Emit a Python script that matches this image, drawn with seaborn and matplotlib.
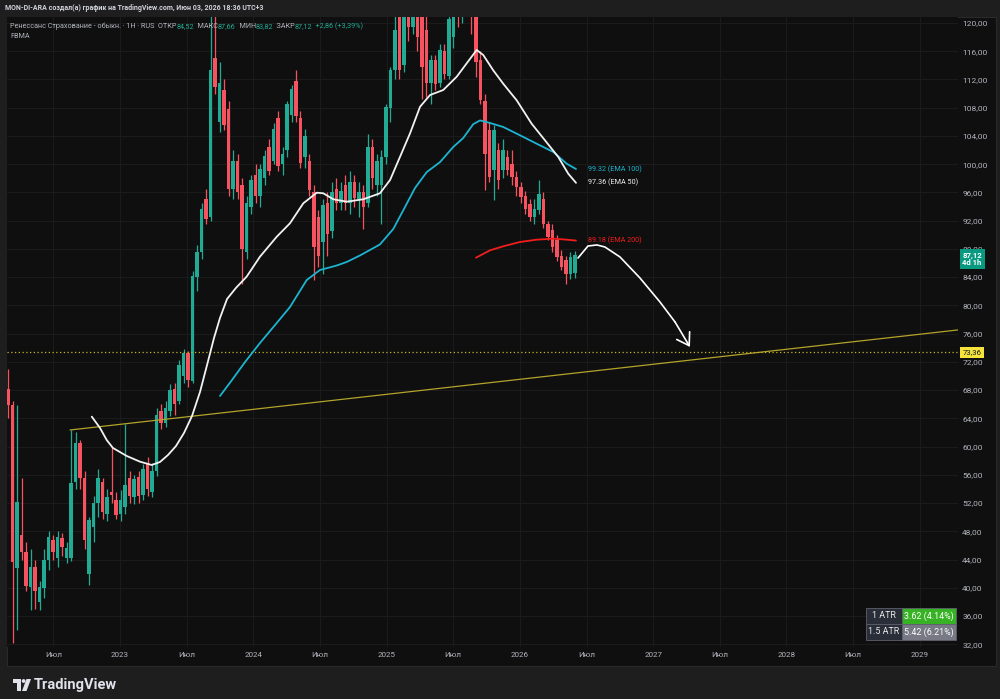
import numpy as np
import matplotlib
matplotlib.use("Agg")
import matplotlib.pyplot as plt
import matplotlib.transforms as mtransforms
from matplotlib.patches import Rectangle, Polygon, Ellipse
import seaborn as sns

# ---------------- data ----------------
opens = [68.2, 65.9, 42.8, 47.5, 45.0, 40.1, 43.0, 38.0, 40.0, 44.0,
         46.8, 44.2, 47.0, 44.2, 44.2, 55.0, 60.5, 55.5, 42.0, 48.6,
         52.0, 55.0, 50.5, 53.5, 52.5, 50.5, 51.5, 55.5, 52.8, 55.7,
         53.2, 57.5, 53.5, 56.5, 65.0, 63.3, 65.0, 68.2, 66.5, 70.0,
         73.2, 69.3, 84.0, 87.5, 95.0, 92.5, 115.0, 106.0, 110.5, 107.8,
         96.5, 100.5, 97.0, 87.5, 94.0, 98.5, 95.5, 98.0, 102.5, 100.5,
         106.5, 100.0, 102.0, 107.0, 111.8, 106.5, 101.0, 100.5, 96.0, 92.5,
         89.0, 94.5, 90.5, 96.5, 94.5, 97.0, 94.5, 97.5, 95.0, 96.0,
         94.5, 102.4, 97.0, 97.0, 101.0, 108.0, 113.3, 121.5, 114.0, 126.0,
         119.5, 125.0, 122.0, 119.0, 111.5, 114.8, 111.5, 116.0, 112.5, 118.0,
         126.0, 121.0, 127.0, 125.0, 123.0, 114.8, 109.0, 104.8, 99.2, 102.0,
         99.2, 101.0, 100.0, 98.2, 96.8, 95.5, 94.4, 92.5, 93.5, 95.0,
         91.5, 90.7, 89.3, 87.0, 86.4, 84.4, 84.52]
highs = [71.0, 66.5, 65.9, 55.6, 46.5, 45.5, 44.0, 41.0, 45.5, 48.0,
         47.5, 48.0, 47.8, 46.5, 62.4, 62.0, 61.0, 56.5, 50.0, 53.0,
         56.8, 55.5, 54.0, 60.0, 53.5, 53.8, 63.2, 56.5, 56.0, 56.5,
         57.5, 58.5, 57.7, 65.5, 66.0, 66.5, 68.8, 69.0, 72.2, 73.8,
         73.6, 84.8, 88.5, 94.5, 96.5, 121.5, 121.5, 114.5, 112.0, 109.0,
         102.0, 101.5, 98.0, 95.5, 98.5, 100.0, 100.0, 102.0, 103.5, 105.8,
         107.5, 102.5, 109.0, 111.2, 113.3, 107.5, 105.0, 101.5, 97.0, 93.5,
         95.0, 96.0, 97.5, 98.0, 97.5, 98.5, 99.0, 98.5, 97.5, 97.0,
         104.3, 103.5, 101.5, 102.0, 108.5, 113.8, 121.5, 122.0, 122.0, 128.0,
         127.0, 126.5, 124.0, 122.0, 115.5, 115.5, 117.0, 117.0, 121.5, 125.0,
         128.0, 128.0, 129.0, 127.0, 124.0, 116.0, 110.0, 106.0, 105.5, 103.0,
         103.6, 102.0, 102.0, 99.0, 97.5, 96.2, 95.0, 95.0, 97.8, 96.0,
         92.0, 91.5, 90.0, 87.8, 87.0, 87.5, 87.66]
lows = [64.0, 32.2, 34.0, 44.0, 39.5, 36.9, 37.0, 36.8, 38.5, 42.5,
        44.0, 43.0, 44.5, 43.5, 43.8, 54.0, 54.0, 45.5, 40.4, 46.5,
        50.0, 49.8, 49.5, 52.0, 49.8, 49.5, 50.5, 52.0, 51.8, 52.0,
        52.5, 53.0, 52.8, 55.8, 62.5, 62.8, 64.3, 64.5, 66.0, 69.0,
        68.5, 69.0, 82.0, 86.5, 91.5, 92.0, 110.0, 104.5, 104.8, 95.5,
        95.0, 95.0, 83.0, 86.5, 93.0, 94.5, 94.0, 97.0, 98.5, 100.0,
        99.0, 98.5, 101.0, 106.0, 106.0, 99.5, 99.5, 95.5, 83.6, 85.5,
        84.5, 87.0, 89.5, 93.5, 93.5, 93.5, 93.0, 94.0, 92.5, 90.8,
        94.0, 96.5, 95.5, 91.5, 100.0, 106.0, 112.0, 112.0, 113.0, 117.5,
        118.5, 116.0, 109.2, 109.5, 108.5, 110.5, 111.0, 112.0, 112.0, 116.5,
        119.5, 120.0, 121.5, 118.5, 112.3, 108.5, 96.3, 97.5, 94.9, 96.5,
        98.0, 98.5, 97.0, 95.5, 94.5, 93.0, 92.0, 91.5, 93.0, 91.0,
        89.2, 87.5, 86.3, 85.0, 83.0, 83.8, 83.82]
closes = [65.9, 43.6, 52.2, 45.1, 40.3, 43.0, 39.5, 40.1, 43.9, 47.2,
          45.0, 47.2, 45.8, 45.6, 54.8, 60.5, 55.5, 46.8, 49.6, 52.0,
          55.5, 50.7, 52.8, 53.1, 50.3, 52.5, 54.5, 53.0, 55.4, 53.0,
          56.8, 54.0, 56.5, 64.5, 63.3, 65.5, 68.0, 66.0, 71.5, 73.2,
          69.5, 84.2, 87.6, 93.7, 92.3, 113.3, 111.0, 111.5, 105.5, 96.5,
          100.5, 96.0, 88.0, 94.5, 97.8, 95.5, 99.3, 101.2, 99.0, 105.0,
          99.8, 101.5, 108.5, 110.7, 106.8, 100.2, 104.0, 96.3, 88.3, 87.0,
          94.2, 90.1, 96.0, 94.5, 96.2, 94.5, 97.5, 95.2, 96.0, 94.0,
          102.5, 98.0, 100.5, 101.0, 108.1, 113.3, 119.0, 113.3, 121.5, 119.5,
          125.0, 118.0, 113.8, 111.5, 114.8, 111.4, 116.2, 112.8, 120.5, 123.0,
          121.0, 126.0, 123.0, 121.0, 114.5, 109.1, 101.4, 98.2, 104.8, 97.8,
          102.0, 99.2, 98.2, 96.8, 95.4, 93.7, 92.5, 93.6, 95.8, 91.5,
          89.7, 88.3, 86.9, 85.4, 84.4, 86.8, 87.12]
first_bar_t, last_bar_t = 2022.160, 2026.413   # time span of the bars (years)

ema50_t = [2022.788, 2022.850, 2022.900, 2022.947, 2023.050, 2023.150, 2023.238,
           2023.300, 2023.360, 2023.420, 2023.480, 2023.540, 2023.600, 2023.653,
           2023.705, 2023.750, 2023.803, 2023.870, 2023.950, 2024.050, 2024.176,
           2024.275, 2024.375, 2024.476, 2024.525, 2024.600, 2024.701, 2024.825,
           2024.950, 2025.026, 2025.101, 2025.176, 2025.251, 2025.326, 2025.425,
           2025.526, 2025.601, 2025.676, 2025.725, 2025.800, 2025.875, 2025.976,
           2026.088, 2026.188, 2026.288, 2026.363, 2026.421]
ema50_v = [64.24, 62.63, 60.93, 59.80, 58.67, 57.86, 57.39,
           57.82, 58.81, 60.08, 61.93, 64.33, 67.73, 71.56,
           75.38, 78.22, 80.91, 82.48, 84.07, 86.90, 89.73,
           91.63, 94.46, 95.96, 95.88, 95.03, 94.69, 95.03,
           95.88, 97.76, 101.06, 104.38, 108.14, 109.80, 110.51,
           112.39, 114.29, 116.18, 115.47, 113.30, 111.40, 109.05,
           105.74, 103.39, 101.02, 98.65, 97.36]
ema100_t = [2023.750, 2023.840, 2023.938, 2024.050, 2024.163, 2024.275, 2024.401,
            2024.500, 2024.626, 2024.701, 2024.800, 2024.950, 2025.050, 2025.125,
            2025.213, 2025.301, 2025.401, 2025.500, 2025.575, 2025.650, 2025.701,
            2025.776, 2025.875, 2026.001, 2026.126, 2026.251, 2026.351, 2026.421]
ema100_v = [67.17, 69.43, 71.98, 74.67, 77.22, 79.77, 83.60,
            85.01, 85.65, 86.15, 87.07, 88.63, 90.82, 93.47,
            96.62, 98.88, 100.30, 102.44, 103.71, 105.67, 106.20,
            105.84, 105.27, 104.09, 102.90, 101.73, 100.07, 99.32]
ema200_t = [2025.671, 2025.776, 2025.875, 2026.001, 2026.126, 2026.251, 2026.351, 2026.421]
ema200_v = [86.76, 87.80, 88.37, 88.98, 89.31, 89.45, 89.31, 89.18]

trend_t = [2022.625, 2029.300]
trend_v = [62.35, 76.55]
target_level = 73.36
last_price = 87.12

forecast_t = [2026.436, 2026.511, 2026.578, 2026.638, 2026.751, 2026.901, 2027.051, 2027.164, 2027.276]
forecast_v = [86.71, 88.41, 88.56, 88.27, 86.86, 83.88, 80.48, 77.65, 74.11]

price_ticks = list(range(32, 121, 4))
time_ticks = [2022.5, 2023.0, 2023.5, 2024.0, 2024.5, 2025.0, 2025.5,
              2026.0, 2026.5, 2027.0, 2027.5, 2028.0, 2028.5, 2029.0]
time_labels = ["Июл", "2023", "Июл", "2024", "Июл", "2025", "Июл",
               "2026", "Июл", "2027", "Июл", "2028", "Июл", "2029"]

header = "MON-DI-ARA создал(а) график на TradingView.com, Июн 03, 2026 18:36 UTC+3"
legend_parts = [("Ренессанс Страхование - обыкн. · 1H · RUS  ОТКР", "g"), ("84,52", "v"),
                ("  МАКС", "g"), ("87,66", "v"), ("  МИН", "g"), ("83,82", "v"),
                ("  ЗАКР", "g"), ("87,12", "v"), ("  +2,86 (+3,39%)", "v")]
atr_names = ["1 ATR", "1.5 ATR"]
atr_values = ["3.62 (4.14%)", "5.42 (6.21%)"]

# ---------------- style ----------------
sns.set_theme(style="dark")
plt.rcParams['font.family'] = ['Roboto', 'DejaVu Sans']

W, H = 1000, 699
BG_OUT = '#1e1e1e'
BG_IN = '#0f0f0f'
TXT = '#b2b5be'
UP, DN = '#22ab94', '#f7525f'

fig = plt.figure(figsize=(10, 6.99), dpi=100)
fig.patch.set_facecolor(BG_OUT)


def frect(x0, y0, x1, y1):
    return (x0 / W, 1 - y1 / H, (x1 - x0) / W, (y1 - y0) / H)


l_, b_, w_, h_ = frect(7, 17, 996, 666)
fig.patches.append(Rectangle((l_, b_), w_, h_, transform=fig.transFigure,
                             fc=BG_IN, ec='#2a2a2a', lw=0.8, zorder=-10))

ax = fig.add_axes(frect(7, 17, 958, 647))
ax.set_zorder(1)
ax.set_facecolor(BG_IN)
ax.set_xlim(2022.152, 2029.287)
ax.set_ylim(31.61, 120.85)
for s in ax.spines.values():
    s.set_visible(False)
ax.grid(True, color='#1b1b1b', lw=0.8)
ax.set_axisbelow(True)

ax.yaxis.tick_right()
ax.set_yticks(price_ticks)
ax.set_yticklabels([f"{v:.2f}".replace('.', ',') for v in price_ticks])
ax.set_xticks(time_ticks)
ax.set_xticklabels(time_labels)
ax.tick_params(axis='y', length=0, pad=3.0, labelsize=6, colors=TXT)
ax.tick_params(axis='x', length=0, pad=3.5, labelsize=5.8, colors=TXT)
ax.set_xlabel("")
ax.set_ylabel("")

# ---------------- candles ----------------
o = np.array(opens); h = np.array(highs); lo = np.array(lows); c = np.array(closes)
t = np.linspace(first_bar_t, last_bar_t, len(c))
col = np.where(c >= o, UP, DN)
step = t[1] - t[0]
ax.vlines(t, lo, h, colors=col, lw=0.9, zorder=2)
ax.bar(t, np.maximum(np.abs(c - o), 0.15), bottom=np.minimum(o, c), width=step * 0.7,
       color=col, lw=0, zorder=3)

# ---------------- lines ----------------
sns.lineplot(x=trend_t, y=trend_v, ax=ax, color='#b3a32a', lw=0.9, zorder=5,
             estimator=None, sort=False, legend=False)
ax.axhline(target_level, color='#c8b52a', lw=0.9, ls=(0, (1, 2)), zorder=5)

sns.lineplot(x=ema100_t, y=ema100_v, ax=ax, color='#1cb4d0', lw=1.3, zorder=6,
             estimator=None, sort=False, legend=False)
sns.lineplot(x=ema50_t, y=ema50_v, ax=ax, color='#f2f2f2', lw=1.3, zorder=6,
             estimator=None, sort=False, legend=False)
sns.lineplot(x=ema200_t, y=ema200_v, ax=ax, color='#f21d1d', lw=1.3, zorder=6,
             estimator=None, sort=False, legend=False)

sns.lineplot(x=forecast_t[:-1], y=forecast_v[:-1], ax=ax, color='white', lw=1.2, zorder=7,
             estimator=None, sort=False, legend=False)
ax.annotate('', xy=(forecast_t[-1], forecast_v[-1]), xytext=(forecast_t[-2], forecast_v[-2]),
            arrowprops=dict(arrowstyle='->,head_length=0.7,head_width=0.45', color='white',
                            lw=1.2, shrinkA=0, shrinkB=0), zorder=7)

dx = 0.09
for tt, vv, name, colr in [(ema100_t, ema100_v, "EMA 100", '#1cb4d0'),
                           (ema50_t, ema50_v, "EMA 50", '#f2f2f2'),
                           (ema200_t, ema200_v, "EMA 200", '#f21d1d')]:
    ax.text(tt[-1] + dx, vv[-1], f"{vv[-1]:.2f} ({name})", color=colr, fontsize=5.2,
            va='center', ha='left', zorder=8)

# ---------------- axis price boxes ----------------
trans = mtransforms.blended_transform_factory(ax.transAxes, ax.transData)
ax.text(1.0045, last_price - 0.55, f"{last_price:.2f}".replace('.', ',') + "\n4d 1h",
        transform=trans, ha='left', va='center', fontsize=5.6, color='white',
        fontweight='bold', linespacing=1.15, clip_on=False, zorder=10,
        bbox=dict(boxstyle='square,pad=0.35', fc='#089981', ec='none'))
ax.text(1.0045, target_level, f"{target_level:.2f}".replace('.', ','),
        transform=trans, ha='left', va='center', fontsize=5.6, color='#131722',
        clip_on=False, zorder=10,
        bbox=dict(boxstyle='square,pad=0.3', fc='#f5e33b', ec='none'))

# ---------------- ATR table ----------------
rows_y = [(608, 624), (624, 640)]
right_fc = ['#37b224', '#777a84']
for (y0, y1), nm, val, rfc in zip(rows_y, atr_names, atr_values, right_fc):
    lx, by, ww, hh = frect(866, y0, 902, y1)
    fig.patches.append(Rectangle((lx, by), ww, hh, transform=fig.transFigure,
                                 fc='#2a2e39', ec='#5d606b', lw=0.6, zorder=20))
    fig.text(lx + ww / 2, by + hh / 2, nm, color='#e8e8e8', fontsize=6.4,
             ha='center', va='center', zorder=21)
    lx, by, ww, hh = frect(902, y0, 956, y1)
    fig.patches.append(Rectangle((lx, by), ww, hh, transform=fig.transFigure,
                                 fc=rfc, ec='#5d606b', lw=0.6, zorder=20))
    fig.text(lx + ww / 2, by + hh / 2, val, color='white', fontsize=6.4,
             ha='center', va='center', zorder=21)

# ---------------- header / legend ----------------
fig.text(5 / W, 1 - 8.5 / H, header, color='#d1d4dc', fontsize=5.0,
         fontweight='bold', va='center', ha='left')

renderer = fig.canvas.get_renderer()
xpos = 10.0
for txt, kind in legend_parts:
    tobj = fig.text(xpos / W, 1 - 28.0 / H, txt, color=(UP if kind == 'v' else TXT),
                    fontsize=5.2, va='baseline', ha='left', zorder=30)
    xpos += tobj.get_window_extent(renderer).width
fig.text(10 / W, 1 - 38.0 / H, "FBMA", color=TXT, fontsize=5.2, va='baseline', ha='left',
         zorder=30)

# ---------------- footer logo ----------------
def fpts(pts):
    return [(x / W, 1 - y / H) for x, y in pts]

fig.patches.append(Polygon(fpts([(13, 679), (21, 679), (21, 691), (17, 691), (17, 683), (13, 683)]),
                           closed=True, transform=fig.transFigure, fc='#e0e3eb', ec='none'))
fig.patches.append(Ellipse((23.6 / W, 1 - 681 / H), 3.8 / W, 3.8 / H,
                           transform=fig.transFigure, fc='#e0e3eb', ec='none'))
fig.patches.append(Polygon(fpts([(26.5, 679), (31, 679), (26.5, 691), (22, 691)]),
                           closed=True, transform=fig.transFigure, fc='#e0e3eb', ec='none'))
fig.text(33.5 / W, 1 - 685 / H, "TradingView", color='#e0e3eb', fontsize=10.5,
         fontweight='bold', va='center', ha='left')

fig.savefig("out.png", dpi=100, facecolor=fig.get_facecolor())
